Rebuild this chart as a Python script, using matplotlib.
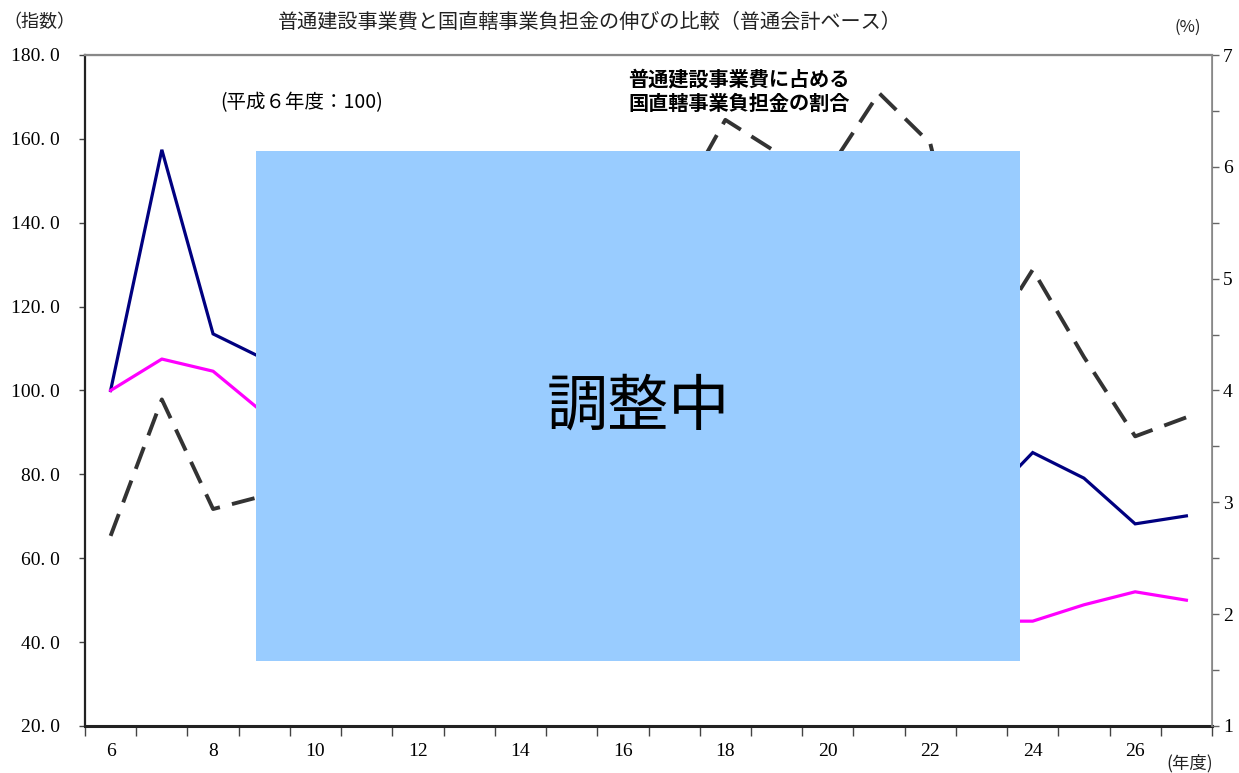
import matplotlib
matplotlib.use("Agg")
from matplotlib import pyplot as plt
from matplotlib.patches import Rectangle
from matplotlib.ticker import FuncFormatter, MultipleLocator, FixedLocator
import numpy as np

# 年度（平成）
years = list(range(6, 28))
# 国直轄事業負担金（指数, 平成6年度=100）
chokkatsu = [100, 157.4, 113.5, 107.5, 110, 112.8, 110.7, 109.8, 112, 112.4, 115.6,
             116.1, 128.4, 120.3, 114.8, 138, 115, 72.5, 85.2, 79.1, 68.2, 70.1]
# 普通建設事業費（指数）
futsu = [100, 107.5, 104.6, 94.5, 90, 87, 83, 78, 72, 66, 60,
         56, 54, 53, 52, 56, 50, 45, 45.0, 48.9, 52.0, 50.0]
# 普通建設事業費に占める国直轄事業負担金の割合（%）
ratio = [2.70, 3.92, 2.94, 3.06, 3.3, 3.5, 3.6, 3.8, 4.2, 4.6, 5.2,
         5.6, 6.42, 6.13, 5.96, 6.66, 6.21, 4.35, 5.08, 4.3, 3.59, 3.76]
label_years = [6, 8, 10, 12, 14, 16, 18, 20, 22, 24, 26]

W, H = 1239, 773
fig = plt.figure(figsize=(W / 100, H / 100), dpi=100)
ax = fig.add_axes([85 / W, 1 - 726 / H, 1127 / W, 671 / H])
ax2 = ax.twinx()

serif = "Liberation Serif"
jp = ["Noto Sans CJK JP", "DejaVu Sans"]

ax.plot(years, chokkatsu, color="#000080", lw=2.3, solid_joinstyle="miter")
ax.plot(years, futsu, color="#FF00FF", lw=2.3)
ax2.plot(years, ratio, color="#333333", lw=2.8, dashes=(6, 3.2))

ax.set_xlim(5.5, 27.5)
ax.set_ylim(20, 180)
ax2.set_ylim(1, 7)

# x: category boundaries as ticks, labels every other year
ax.xaxis.set_major_locator(FixedLocator(np.arange(5.5, 28, 1)))
ax.xaxis.set_minor_locator(FixedLocator(label_years))
ax.xaxis.set_major_formatter(FuncFormatter(lambda v, p: ""))
ax.xaxis.set_minor_formatter(FuncFormatter(lambda v, p: f"{int(v)}"))
ax.tick_params(axis="x", which="major", direction="out", length=7, width=1, color="#444444")
ax.tick_params(axis="x", which="minor", length=0, pad=12, labelsize=14)
for t in ax.xaxis.get_minorticklabels():
    t.set_fontfamily(serif)

ax.yaxis.set_major_locator(MultipleLocator(20))
ax.yaxis.set_major_formatter(FuncFormatter(lambda v, p: f"{v:.1f}".replace(".", ". ")))
ax.tick_params(axis="y", direction="out", length=4, width=1, color="#444444", labelsize=14, pad=14)
for t in ax.get_yticklabels():
    t.set_fontfamily(serif)

ax2.yaxis.set_major_locator(MultipleLocator(1))
ax2.yaxis.set_minor_locator(MultipleLocator(0.5))
ax2.yaxis.set_major_formatter(FuncFormatter(lambda v, p: f"{int(v)}"))
ax2.tick_params(axis="y", which="both", direction="out", length=5, width=1, color="#666666", labelsize=14, pad=3)
for t in ax2.get_yticklabels():
    t.set_fontfamily(serif)

ax.spines["left"].set_linewidth(1.6)
ax.spines["left"].set_color("#222222")
ax.spines["bottom"].set_linewidth(2.2)
ax.spines["bottom"].set_color("#222222")
for s in ["top", "right"]:
    ax.spines[s].set_color("#888888")
    ax2.spines[s].set_color("#888888")
ax2.spines["top"].set_linewidth(1.6)
ax2.spines["right"].set_linewidth(1.2)
ax2.spines["left"].set_visible(False)
ax2.spines["bottom"].set_visible(False)

fig.text(278 / W, 1 - 22 / H, "普通建設事業費と国直轄事業負担金の伸びの比較（普通会計ベース）",
         family=jp, fontsize=14.5, ha="left", va="center", color="#222222")
fig.text(3 / W, 1 - 22 / H, "（指数）", family=jp, fontsize=13, ha="left", va="center", color="#222222")
fig.text(1188 / W, 1 - 27 / H, "(%)", family=jp, fontsize=12, ha="center", va="center", color="#222222")
fig.text(1190 / W, 1 - 763 / H, "(年度)", family=jp, fontsize=12.5, ha="center", va="center", color="#222222")
fig.text(220 / W, 1 - 103 / H, "(平成６年度：100)", family=jp, fontsize=14, ha="left", va="center")
fig.text(628 / W, 1 - 91 / H, "普通建設事業費に占める\n国直轄事業負担金の割合", family=jp, fontsize=14.5,
         fontweight="bold", ha="left", va="center", linespacing=1.2)

# 調整中 overlay
fig.add_artist(Rectangle((256 / W, 1 - 661 / H), (1020 - 256) / W, (661 - 151) / H,
                         transform=fig.transFigure, facecolor="#99CCFF", edgecolor="none", zorder=5))
fig.text(638 / W, 1 - 407 / H, "調整中", family=jp, fontsize=44, ha="center", va="center",
         color="black", zorder=6)

fig.savefig("out.png", dpi=100)
